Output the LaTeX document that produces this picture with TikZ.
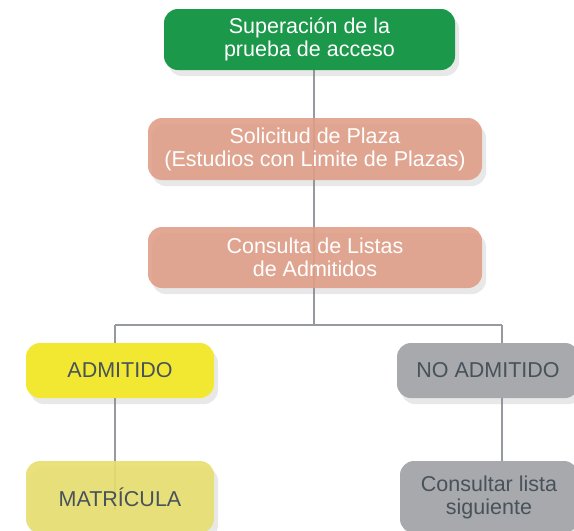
\documentclass[tikz,border=0pt]{standalone}
\usepackage{fontspec}
\setmainfont{Liberation Sans}
\usepackage{xcolor}
\usepackage{tikz}
\usetikzlibrary{shadows,backgrounds}
\definecolor{verde}{RGB}{27,152,74}
\definecolor{salmon}{RGB}{224,158,136}
\definecolor{amarillo}{RGB}{242,232,50}
\definecolor{amarilloclaro}{RGB}{232,222,110}
\definecolor{gris}{RGB}{167,169,172}
\definecolor{grislinea}{RGB}{150,154,160}
\definecolor{textogris}{RGB}{72,82,90}
\tikzset{
  caja/.style={rounded corners=14pt, align=center, font=\fontsize{21.5}{23}\selectfont,
    inner sep=0pt, drop shadow={shadow xshift=4pt, shadow yshift=-6pt, opacity=0.18}},
  link/.style={grislinea, line width=2pt}
}

\begin{document}
\begin{tikzpicture}[x=1pt,y=-1pt]
      \useasboundingbox (0,0) rectangle (574,531);
      \node[caja, fill=verde, text=white, minimum width=291pt, minimum height=61pt] (sup) at (309.5,39.5) {Superación de la\\prueba de acceso};
      \node[caja, fill=salmon, fill opacity=0.9, text opacity=1, text=white, minimum width=334pt, minimum height=62pt] (sol) at (315,149) {Solicitud de Plaza\\(Estudios con Limite de Plazas)};
      \node[caja, fill=salmon, fill opacity=0.9, text opacity=1, text=white, minimum width=334pt, minimum height=61pt] (lis) at (315,257.5) {Consulta de Listas\\de Admitidos};
      \node[caja, fill=amarillo, text=textogris, minimum width=188pt, minimum height=55pt] (adm) at (120,370.5) {ADMITIDO};
      \node[caja, fill=gris, text=textogris, minimum width=182pt, minimum height=55pt] (noadm) at (488,370.5) {NO ADMITIDO};
      \node[caja, fill=amarilloclaro, fill opacity=0.9, text opacity=1, text=textogris, minimum width=188pt, minimum height=72pt] (mat) at (120,497) {MATRÍCULA};
      \node[caja, fill=gris, text=textogris, minimum width=178pt, minimum height=72pt] (cons) at (489,497) {Consultar lista\\siguiente};
      \coordinate (split) at (314,325);
      \coordinate (izq) at (115,325);
      \coordinate (der) at (502,325);
      \coordinate (finmat) at (115,510);
      \begin{scope}[on background layer]
        \draw[link] (sup.south -| split) -- (split);
        \draw[link] (izq) -- (der);
        \draw[link] (izq) -- (izq |- adm.north);
        \draw[link] (der) -- (der |- noadm.north);
        \draw[link] (izq |- adm.south) -- (finmat);
        \draw[link] (der |- noadm.south) -- (der |- cons.north);
      \end{scope}
    \end{tikzpicture}
\end{document}
